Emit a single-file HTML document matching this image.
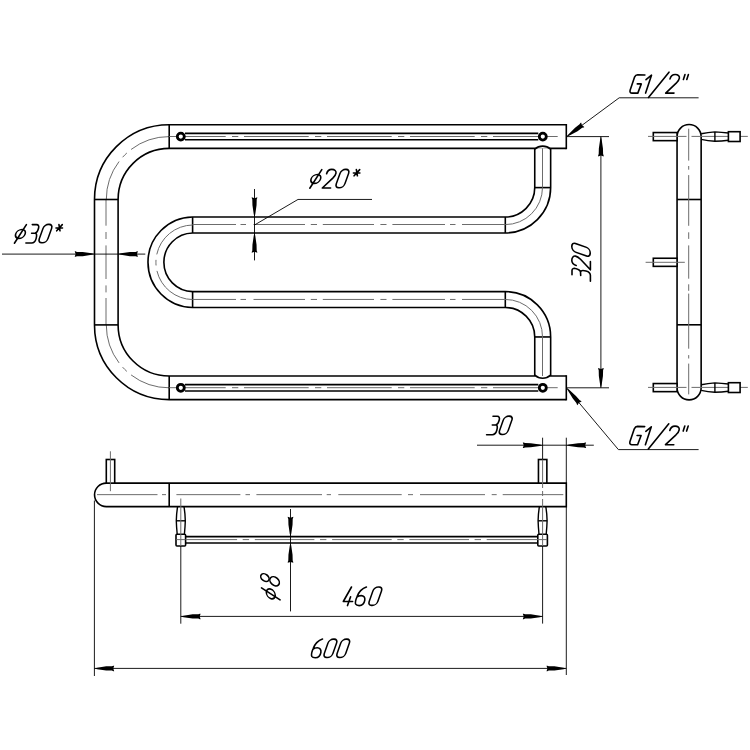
<!DOCTYPE html>
<html><head><meta charset="utf-8"><style>
html,body{margin:0;padding:0;background:#fff;}
svg{display:block;}
</style></head><body>
<svg width="750" height="750" viewBox="0 0 750 750">
<rect width="750" height="750" fill="#fff"/>
<path d="M566.3,136.6 H169.2 A62.89999999999999,62.89999999999999 0 0 0 106.3,199.5 V324.90000000000003 A62.89999999999999,62.89999999999999 0 0 0 169.2,387.8 H566.3" stroke="#000" stroke-width="25.200000000000003" fill="none" />
<path d="M566.3,136.6 H169.2 A62.89999999999999,62.89999999999999 0 0 0 106.3,199.5 V324.90000000000003 A62.89999999999999,62.89999999999999 0 0 0 169.2,387.8 H566.3" stroke="#fff" stroke-width="22.0" fill="none" />
<path d="M169.2,136.6 A62.89999999999999,62.89999999999999 0 0 0 106.3,199.5" stroke="#6c6c6c" stroke-width="1.0" fill="none" stroke-dasharray="40.9 5.5 6 5.5 80" stroke-dashoffset="0"/>
<path d="M169.2,387.8 A62.89999999999999,62.89999999999999 0 0 1 106.3,324.90000000000003" stroke="#6c6c6c" stroke-width="1.0" fill="none" stroke-dasharray="40.9 5.5 6 5.5 80" stroke-dashoffset="0"/>
<line x1="106.00" y1="199.50" x2="106.00" y2="225.70" stroke="#6c6c6c" stroke-width="1.0"/>
<line x1="106.00" y1="232.00" x2="106.00" y2="239.00" stroke="#6c6c6c" stroke-width="1.0"/>
<line x1="106.00" y1="245.40" x2="106.00" y2="279.00" stroke="#6c6c6c" stroke-width="1.0"/>
<line x1="106.00" y1="285.40" x2="106.00" y2="292.40" stroke="#6c6c6c" stroke-width="1.0"/>
<line x1="106.00" y1="298.00" x2="106.00" y2="324.90" stroke="#6c6c6c" stroke-width="1.0"/>
<line x1="566.30" y1="124.00" x2="566.30" y2="149.20" stroke="#000" stroke-width="1.6" />
<line x1="566.30" y1="375.20" x2="566.30" y2="400.40" stroke="#000" stroke-width="1.6" />
<line x1="169.20" y1="124.80" x2="169.20" y2="148.40" stroke="#000" stroke-width="1.6" />
<line x1="169.20" y1="376.00" x2="169.20" y2="399.60" stroke="#000" stroke-width="1.6" />
<line x1="94.50" y1="199.50" x2="118.10" y2="199.50" stroke="#000" stroke-width="1.6" />
<line x1="94.50" y1="324.90" x2="118.10" y2="324.90" stroke="#000" stroke-width="1.6" />
<path d="M542.7,148.3 V187.60 A37.40,37.40 0 0 1 505.3,225.0 H192.6 A37.28,37.28 0 0 0 192.6,299.55 H505.3 A37.40,37.40 0 0 1 542.7,336.95 V376.0" stroke="#000" stroke-width="17.5" fill="none" />
<path d="M542.7,148.3 V187.60 A37.40,37.40 0 0 1 505.3,225.0 H192.6 A37.28,37.28 0 0 0 192.6,299.55 H505.3 A37.40,37.40 0 0 1 542.7,336.95 V376.0" stroke="#fff" stroke-width="14.3" fill="none" />
<path d="M534.75,148.3 A12,12 0 0 1 550.6500000000001,148.3 Z" fill="#fff" stroke="none"/>
<path d="M534.75,149.10000000000002 A12,12 0 0 1 550.6500000000001,149.10000000000002" stroke="#000" stroke-width="1.6" fill="none" />
<path d="M534.75,376.0 A12,12 0 0 0 550.6500000000001,376.0 Z" fill="#fff" stroke="none"/>
<path d="M534.75,375.2 A12,12 0 0 0 550.6500000000001,375.2" stroke="#000" stroke-width="1.6" fill="none" />
<line x1="534.75" y1="187.60" x2="550.65" y2="187.60" stroke="#000" stroke-width="1.6" />
<line x1="534.75" y1="336.95" x2="550.65" y2="336.95" stroke="#000" stroke-width="1.6" />
<line x1="505.30" y1="217.05" x2="505.30" y2="232.95" stroke="#000" stroke-width="1.6" />
<line x1="505.30" y1="291.60" x2="505.30" y2="307.50" stroke="#000" stroke-width="1.6" />
<line x1="192.60" y1="217.05" x2="192.60" y2="232.95" stroke="#000" stroke-width="1.6" />
<line x1="192.60" y1="291.60" x2="192.60" y2="307.50" stroke="#000" stroke-width="1.6" />
<path d="M542.5,148.3 V187.60 A37.20,37.20 0 0 1 505.3,224.6" stroke="#6c6c6c" stroke-width="1.0" fill="none" stroke-dasharray="none" stroke-dashoffset="0"/>
<path d="M542.5,376.0 V336.95 A37.20,37.20 0 0 0 505.3,299.45" stroke="#6c6c6c" stroke-width="1.0" fill="none" stroke-dasharray="none" stroke-dashoffset="0"/>
<line x1="192.60" y1="224.50" x2="236.00" y2="224.50" stroke="#6c6c6c" stroke-width="1.0"/>
<line x1="240.50" y1="224.50" x2="246.00" y2="224.50" stroke="#6c6c6c" stroke-width="1.0"/>
<line x1="253.50" y1="224.50" x2="305.00" y2="224.50" stroke="#6c6c6c" stroke-width="1.0"/>
<line x1="310.80" y1="224.50" x2="317.00" y2="224.50" stroke="#6c6c6c" stroke-width="1.0"/>
<line x1="322.80" y1="224.50" x2="374.00" y2="224.50" stroke="#6c6c6c" stroke-width="1.0"/>
<line x1="380.40" y1="224.50" x2="386.50" y2="224.50" stroke="#6c6c6c" stroke-width="1.0"/>
<line x1="392.40" y1="224.50" x2="445.00" y2="224.50" stroke="#6c6c6c" stroke-width="1.0"/>
<line x1="450.00" y1="224.50" x2="455.50" y2="224.50" stroke="#6c6c6c" stroke-width="1.0"/>
<line x1="462.00" y1="224.50" x2="505.30" y2="224.50" stroke="#6c6c6c" stroke-width="1.0"/>
<line x1="192.60" y1="299.45" x2="236.00" y2="299.45" stroke="#6c6c6c" stroke-width="1.0"/>
<line x1="240.50" y1="299.45" x2="246.00" y2="299.45" stroke="#6c6c6c" stroke-width="1.0"/>
<line x1="253.50" y1="299.45" x2="305.00" y2="299.45" stroke="#6c6c6c" stroke-width="1.0"/>
<line x1="310.80" y1="299.45" x2="317.00" y2="299.45" stroke="#6c6c6c" stroke-width="1.0"/>
<line x1="322.80" y1="299.45" x2="374.00" y2="299.45" stroke="#6c6c6c" stroke-width="1.0"/>
<line x1="380.40" y1="299.45" x2="386.50" y2="299.45" stroke="#6c6c6c" stroke-width="1.0"/>
<line x1="392.40" y1="299.45" x2="445.00" y2="299.45" stroke="#6c6c6c" stroke-width="1.0"/>
<line x1="450.00" y1="299.45" x2="455.50" y2="299.45" stroke="#6c6c6c" stroke-width="1.0"/>
<line x1="462.00" y1="299.45" x2="505.30" y2="299.45" stroke="#6c6c6c" stroke-width="1.0"/>
<path d="M192.6,225.0 A37.28,37.28 0 0 0 192.6,299.55" stroke="#6c6c6c" stroke-width="1.0" fill="none" stroke-dasharray="49.9 5.5 5.7 5.5 80" stroke-dashoffset="0"/>
<line x1="185.00" y1="133.40" x2="538.30" y2="133.40" stroke="#000" stroke-width="1.6" />
<line x1="185.00" y1="139.80" x2="538.30" y2="139.80" stroke="#000" stroke-width="1.6" />
<line x1="169.20" y1="136.50" x2="225.70" y2="136.50" stroke="#6c6c6c" stroke-width="1.0"/>
<line x1="232.00" y1="136.50" x2="238.30" y2="136.50" stroke="#6c6c6c" stroke-width="1.0"/>
<line x1="244.00" y1="136.50" x2="308.70" y2="136.50" stroke="#6c6c6c" stroke-width="1.0"/>
<line x1="315.00" y1="136.50" x2="321.30" y2="136.50" stroke="#6c6c6c" stroke-width="1.0"/>
<line x1="327.00" y1="136.50" x2="391.70" y2="136.50" stroke="#6c6c6c" stroke-width="1.0"/>
<line x1="398.00" y1="136.50" x2="404.30" y2="136.50" stroke="#6c6c6c" stroke-width="1.0"/>
<line x1="410.00" y1="136.50" x2="474.70" y2="136.50" stroke="#6c6c6c" stroke-width="1.0"/>
<line x1="481.00" y1="136.50" x2="487.30" y2="136.50" stroke="#6c6c6c" stroke-width="1.0"/>
<line x1="493.00" y1="136.50" x2="557.70" y2="136.50" stroke="#6c6c6c" stroke-width="1.0"/>
<circle cx="180.8" cy="136.6" r="3.5" fill="#fff" stroke="#000" stroke-width="2.8"/>
<circle cx="542.8" cy="136.6" r="3.5" fill="#fff" stroke="#000" stroke-width="2.8"/>
<line x1="185.00" y1="384.60" x2="538.30" y2="384.60" stroke="#000" stroke-width="1.6" />
<line x1="185.00" y1="391.00" x2="538.30" y2="391.00" stroke="#000" stroke-width="1.6" />
<line x1="169.20" y1="387.70" x2="225.70" y2="387.70" stroke="#6c6c6c" stroke-width="1.0"/>
<line x1="232.00" y1="387.70" x2="238.30" y2="387.70" stroke="#6c6c6c" stroke-width="1.0"/>
<line x1="244.00" y1="387.70" x2="308.70" y2="387.70" stroke="#6c6c6c" stroke-width="1.0"/>
<line x1="315.00" y1="387.70" x2="321.30" y2="387.70" stroke="#6c6c6c" stroke-width="1.0"/>
<line x1="327.00" y1="387.70" x2="391.70" y2="387.70" stroke="#6c6c6c" stroke-width="1.0"/>
<line x1="398.00" y1="387.70" x2="404.30" y2="387.70" stroke="#6c6c6c" stroke-width="1.0"/>
<line x1="410.00" y1="387.70" x2="474.70" y2="387.70" stroke="#6c6c6c" stroke-width="1.0"/>
<line x1="481.00" y1="387.70" x2="487.30" y2="387.70" stroke="#6c6c6c" stroke-width="1.0"/>
<line x1="493.00" y1="387.70" x2="557.70" y2="387.70" stroke="#6c6c6c" stroke-width="1.0"/>
<circle cx="180.8" cy="387.8" r="3.5" fill="#fff" stroke="#000" stroke-width="2.8"/>
<circle cx="542.8" cy="387.8" r="3.5" fill="#fff" stroke="#000" stroke-width="2.8"/>
<path d="M677.0500000000001,136.6 A12.05,12.05 0 0 1 701.15,136.6 V387.8 A12.05,12.05 0 0 1 677.0500000000001,387.8 Z" fill="#fff" stroke="#000" stroke-width="1.6"/>
<line x1="677.05" y1="199.50" x2="701.15" y2="199.50" stroke="#000" stroke-width="1.6" />
<line x1="677.05" y1="324.80" x2="701.15" y2="324.80" stroke="#000" stroke-width="1.6" />
<line x1="688.70" y1="128.70" x2="688.70" y2="160.60" stroke="#6c6c6c" stroke-width="1.0"/>
<line x1="688.70" y1="166.00" x2="688.70" y2="169.70" stroke="#6c6c6c" stroke-width="1.0"/>
<line x1="688.70" y1="175.10" x2="688.70" y2="225.80" stroke="#6c6c6c" stroke-width="1.0"/>
<line x1="688.70" y1="232.30" x2="688.70" y2="238.90" stroke="#6c6c6c" stroke-width="1.0"/>
<line x1="688.70" y1="245.40" x2="688.70" y2="278.70" stroke="#6c6c6c" stroke-width="1.0"/>
<line x1="688.70" y1="284.30" x2="688.70" y2="290.80" stroke="#6c6c6c" stroke-width="1.0"/>
<line x1="688.70" y1="293.60" x2="688.70" y2="348.70" stroke="#6c6c6c" stroke-width="1.0"/>
<line x1="688.70" y1="355.10" x2="688.70" y2="358.50" stroke="#6c6c6c" stroke-width="1.0"/>
<line x1="688.70" y1="363.60" x2="688.70" y2="394.40" stroke="#6c6c6c" stroke-width="1.0"/>
<rect x="653.3" y="132.55" width="23.75" height="8.1" fill="#fff" stroke="#000" stroke-width="1.6"/>
<rect x="653.3" y="258.25" width="23.75" height="8.1" fill="#fff" stroke="#000" stroke-width="1.6"/>
<rect x="653.3" y="383.55" width="23.75" height="8.1" fill="#fff" stroke="#000" stroke-width="1.6"/>
<line x1="648.00" y1="136.40" x2="686.50" y2="136.40" stroke="#6c6c6c" stroke-width="1.0"/>
<line x1="691.50" y1="136.40" x2="747.80" y2="136.40" stroke="#6c6c6c" stroke-width="1.0"/>
<line x1="648.00" y1="387.40" x2="686.50" y2="387.40" stroke="#6c6c6c" stroke-width="1.0"/>
<line x1="691.50" y1="387.40" x2="747.80" y2="387.40" stroke="#6c6c6c" stroke-width="1.0"/>
<line x1="645.60" y1="262.30" x2="684.80" y2="262.30" stroke="#6c6c6c" stroke-width="1.0"/>
<path d="M701.15,133.79999999999998 Q708.025,132.4 714.9,131.9 Q721.65,132.2 728.4,133.0" stroke="#000" stroke-width="1.4" fill="none" />
<path d="M701.15,139.4 Q708.025,140.79999999999998 714.9,141.29999999999998 Q721.65,141.0 728.4,140.2" stroke="#000" stroke-width="1.4" fill="none" />
<line x1="714.90" y1="131.90" x2="714.90" y2="141.30" stroke="#000" stroke-width="1.4" />
<rect x="728.4" y="131.70" width="11.70" height="9.8" fill="#fff" stroke="#000" stroke-width="1.6"/>
<path d="M701.15,384.8 Q708.025,383.40000000000003 714.9,382.90000000000003 Q721.65,383.20000000000005 728.4,384.0" stroke="#000" stroke-width="1.4" fill="none" />
<path d="M701.15,390.40000000000003 Q708.025,391.8 714.9,392.3 Q721.65,392.0 728.4,391.20000000000005" stroke="#000" stroke-width="1.4" fill="none" />
<line x1="714.90" y1="382.90" x2="714.90" y2="392.30" stroke="#000" stroke-width="1.4" />
<rect x="728.4" y="382.70" width="11.70" height="9.8" fill="#fff" stroke="#000" stroke-width="1.6"/>
<line x1="94.40" y1="500.50" x2="94.40" y2="676.00" stroke="#000" stroke-width="0.9" />
<line x1="566.30" y1="437.70" x2="566.30" y2="675.00" stroke="#000" stroke-width="0.9" />
<line x1="542.60" y1="437.70" x2="542.60" y2="459.50" stroke="#000" stroke-width="0.9" />
<line x1="542.60" y1="546.00" x2="542.60" y2="623.60" stroke="#000" stroke-width="0.9" />
<line x1="180.80" y1="546.00" x2="180.80" y2="623.70" stroke="#000" stroke-width="0.9" />
<path d="M566.3,483.1 H106.3 A11.75,11.75 0 0 0 106.3,506.6 H566.3 Z" fill="#fff" stroke="#000" stroke-width="1.6"/>
<line x1="169.20" y1="483.10" x2="169.20" y2="506.60" stroke="#000" stroke-width="1.6" />
<line x1="97.00" y1="494.65" x2="157.50" y2="494.65" stroke="#6c6c6c" stroke-width="1.0"/>
<line x1="162.00" y1="494.65" x2="166.00" y2="494.65" stroke="#6c6c6c" stroke-width="1.0"/>
<line x1="176.40" y1="494.65" x2="240.40" y2="494.65" stroke="#6c6c6c" stroke-width="1.0"/>
<line x1="245.50" y1="494.65" x2="250.00" y2="494.65" stroke="#6c6c6c" stroke-width="1.0"/>
<line x1="256.40" y1="494.65" x2="322.00" y2="494.65" stroke="#6c6c6c" stroke-width="1.0"/>
<line x1="326.70" y1="494.65" x2="331.00" y2="494.65" stroke="#6c6c6c" stroke-width="1.0"/>
<line x1="338.30" y1="494.65" x2="401.70" y2="494.65" stroke="#6c6c6c" stroke-width="1.0"/>
<line x1="408.00" y1="494.65" x2="413.00" y2="494.65" stroke="#6c6c6c" stroke-width="1.0"/>
<line x1="420.00" y1="494.65" x2="485.00" y2="494.65" stroke="#6c6c6c" stroke-width="1.0"/>
<line x1="491.70" y1="494.65" x2="496.70" y2="494.65" stroke="#6c6c6c" stroke-width="1.0"/>
<line x1="502.70" y1="494.65" x2="563.30" y2="494.65" stroke="#6c6c6c" stroke-width="1.0"/>
<rect x="106.30" y="459.5" width="8.4" height="23.60" fill="#fff" stroke="#000" stroke-width="1.6"/>
<rect x="538.45" y="459.5" width="8.4" height="23.60" fill="#fff" stroke="#000" stroke-width="1.6"/>
<line x1="110.40" y1="451.30" x2="110.40" y2="491.20" stroke="#6c6c6c" stroke-width="1.0"/>
<line x1="542.60" y1="459.50" x2="542.60" y2="488.00" stroke="#6c6c6c" stroke-width="1.0"/>
<line x1="542.60" y1="491.00" x2="542.60" y2="496.00" stroke="#6c6c6c" stroke-width="1.0"/>
<line x1="542.60" y1="499.00" x2="542.60" y2="506.60" stroke="#6c6c6c" stroke-width="1.0"/>
<path d="M177.60000000000002,506.6 Q176.4,513.7 176.3,520.8 Q176.5,527.5 177.20000000000002,534.2" stroke="#000" stroke-width="1.4" fill="none" />
<path d="M184.0,506.6 Q185.20000000000002,513.7 185.3,520.8 Q185.10000000000002,527.5 184.4,534.2" stroke="#000" stroke-width="1.4" fill="none" />
<line x1="176.30" y1="520.80" x2="185.30" y2="520.80" stroke="#000" stroke-width="1.4" />
<rect x="176.00" y="534.2" width="9.6" height="11.80" rx="1" fill="#fff" stroke="#000" stroke-width="1.6"/>
<line x1="180.80" y1="498.50" x2="180.80" y2="546.00" stroke="#6c6c6c" stroke-width="1.0"/>
<line x1="176.30" y1="539.60" x2="185.30" y2="539.60" stroke="#6c6c6c" stroke-width="1.0"/>
<path d="M539.4,506.6 Q538.2,513.7 538.1,520.8 Q538.3000000000001,527.5 539.0,534.2" stroke="#000" stroke-width="1.4" fill="none" />
<path d="M545.8000000000001,506.6 Q547.0,513.7 547.1,520.8 Q546.9,527.5 546.2,534.2" stroke="#000" stroke-width="1.4" fill="none" />
<line x1="538.10" y1="520.80" x2="547.10" y2="520.80" stroke="#000" stroke-width="1.4" />
<rect x="537.80" y="534.2" width="9.6" height="11.80" rx="1" fill="#fff" stroke="#000" stroke-width="1.6"/>
<line x1="542.60" y1="506.60" x2="542.60" y2="546.00" stroke="#6c6c6c" stroke-width="1.0"/>
<line x1="538.10" y1="539.60" x2="547.10" y2="539.60" stroke="#6c6c6c" stroke-width="1.0"/>
<line x1="185.60" y1="536.60" x2="537.80" y2="536.60" stroke="#000" stroke-width="1.6" />
<line x1="185.60" y1="543.00" x2="537.80" y2="543.00" stroke="#000" stroke-width="1.6" />
<line x1="185.60" y1="539.60" x2="237.10" y2="539.60" stroke="#6c6c6c" stroke-width="1.0"/>
<line x1="242.70" y1="539.60" x2="249.10" y2="539.60" stroke="#6c6c6c" stroke-width="1.0"/>
<line x1="254.80" y1="539.60" x2="314.40" y2="539.60" stroke="#6c6c6c" stroke-width="1.0"/>
<line x1="320.00" y1="539.60" x2="326.40" y2="539.60" stroke="#6c6c6c" stroke-width="1.0"/>
<line x1="332.10" y1="539.60" x2="391.70" y2="539.60" stroke="#6c6c6c" stroke-width="1.0"/>
<line x1="397.30" y1="539.60" x2="403.70" y2="539.60" stroke="#6c6c6c" stroke-width="1.0"/>
<line x1="409.40" y1="539.60" x2="469.00" y2="539.60" stroke="#6c6c6c" stroke-width="1.0"/>
<line x1="474.60" y1="539.60" x2="481.00" y2="539.60" stroke="#6c6c6c" stroke-width="1.0"/>
<line x1="486.70" y1="539.60" x2="538.00" y2="539.60" stroke="#6c6c6c" stroke-width="1.0"/>
<line x1="2.00" y1="254.10" x2="145.30" y2="254.10" stroke="#000" stroke-width="0.9" />
<polygon points="94.50,254.10 91.70,253.35 82.70,252.05 77.00,251.90 75.50,251.35 74.70,251.35 75.60,254.10 74.70,256.85 75.50,256.85 77.00,256.30 82.70,256.15 91.70,254.85" fill="#000"/>
<polygon points="118.10,254.10 120.90,254.85 129.90,256.15 135.60,256.30 137.10,256.85 137.90,256.85 137.00,254.10 137.90,251.35 137.10,251.35 135.60,251.90 129.90,252.05 120.90,253.35" fill="#000"/>
<line x1="254.50" y1="189.00" x2="254.50" y2="260.40" stroke="#000" stroke-width="0.9" />
<polygon points="254.50,217.05 255.25,214.25 256.55,205.25 256.70,199.55 257.25,198.05 257.25,197.25 254.50,198.15 251.75,197.25 251.75,198.05 252.30,199.55 252.45,205.25 253.75,214.25" fill="#000"/>
<polygon points="254.50,232.95 253.75,235.75 252.45,244.75 252.30,250.45 251.75,251.95 251.75,252.75 254.50,251.85 257.25,252.75 257.25,251.95 256.70,250.45 256.55,244.75 255.25,235.75" fill="#000"/>
<path d="M254.5,225.0 L298,199.45 H372" stroke="#000" stroke-width="0.9" fill="none" />
<path d="M566.8,136.5 L619.2,97.8 H698.6" stroke="#000" stroke-width="0.9" fill="none" />
<polygon points="566.80,136.50 569.50,135.44 577.51,131.14 582.18,127.87 583.72,127.42 584.36,126.95 582.00,125.27 581.09,122.52 580.45,123.00 579.57,124.33 575.07,127.84 568.61,134.23" fill="#000"/>
<path d="M566.8,388.2 L618.4,449.6 H698.6" stroke="#000" stroke-width="0.9" fill="none" />
<polygon points="566.80,388.20 568.03,390.83 572.82,398.55 576.37,403.01 576.92,404.51 577.43,405.13 578.96,402.67 581.64,401.59 581.13,400.98 579.74,400.18 575.96,395.91 569.18,389.86" fill="#000"/>
<line x1="566.30" y1="136.60" x2="609.00" y2="136.60" stroke="#000" stroke-width="0.9" />
<line x1="566.30" y1="387.80" x2="609.00" y2="387.80" stroke="#000" stroke-width="0.9" />
<line x1="600.90" y1="136.60" x2="600.90" y2="387.80" stroke="#000" stroke-width="0.9" />
<polygon points="600.90,136.60 600.15,139.40 598.85,148.40 598.70,154.10 598.15,155.60 598.15,156.40 600.90,155.50 603.65,156.40 603.65,155.60 603.10,154.10 602.95,148.40 601.65,139.40" fill="#000"/>
<polygon points="600.90,387.80 601.65,385.00 602.95,376.00 603.10,370.30 603.65,368.80 603.65,368.00 600.90,368.90 598.15,368.00 598.15,368.80 598.70,370.30 598.85,376.00 600.15,385.00" fill="#000"/>
<line x1="477.00" y1="445.20" x2="593.80" y2="445.20" stroke="#000" stroke-width="0.9" />
<polygon points="542.60,445.20 539.80,444.45 530.80,443.15 525.10,443.00 523.60,442.45 522.80,442.45 523.70,445.20 522.80,447.95 523.60,447.95 525.10,447.40 530.80,447.25 539.80,445.95" fill="#000"/>
<polygon points="566.30,445.20 569.10,445.95 578.10,447.25 583.80,447.40 585.30,447.95 586.10,447.95 585.20,445.20 586.10,442.45 585.30,442.45 583.80,443.00 578.10,443.15 569.10,444.45" fill="#000"/>
<line x1="290.50" y1="509.00" x2="290.50" y2="611.40" stroke="#000" stroke-width="0.9" />
<polygon points="290.50,536.60 291.25,533.80 292.55,524.80 292.70,519.10 293.25,517.60 293.25,516.80 290.50,517.70 287.75,516.80 287.75,517.60 288.30,519.10 288.45,524.80 289.75,533.80" fill="#000"/>
<polygon points="290.50,543.00 289.75,545.80 288.45,554.80 288.30,560.50 287.75,562.00 287.75,562.80 290.50,561.90 293.25,562.80 293.25,562.00 292.70,560.50 292.55,554.80 291.25,545.80" fill="#000"/>
<line x1="180.80" y1="616.40" x2="542.60" y2="616.40" stroke="#000" stroke-width="0.9" />
<polygon points="180.80,616.40 183.60,617.15 192.60,618.45 198.30,618.60 199.80,619.15 200.60,619.15 199.70,616.40 200.60,613.65 199.80,613.65 198.30,614.20 192.60,614.35 183.60,615.65" fill="#000"/>
<polygon points="542.60,616.40 539.80,615.65 530.80,614.35 525.10,614.20 523.60,613.65 522.80,613.65 523.70,616.40 522.80,619.15 523.60,619.15 525.10,618.60 530.80,618.45 539.80,617.15" fill="#000"/>
<line x1="94.40" y1="668.40" x2="566.30" y2="668.40" stroke="#000" stroke-width="0.9" />
<polygon points="94.40,668.40 97.20,669.15 106.20,670.45 111.90,670.60 113.40,671.15 114.20,671.15 113.30,668.40 114.20,665.65 113.40,665.65 111.90,666.20 106.20,666.35 97.20,667.65" fill="#000"/>
<polygon points="566.30,668.40 563.50,667.65 554.50,666.35 548.80,666.20 547.30,665.65 546.50,665.65 547.40,668.40 546.50,671.15 547.30,671.15 548.80,670.60 554.50,670.45 563.50,669.15" fill="#000"/>
<g transform="translate(14.00,243.60)" stroke="#000" stroke-width="1.6" fill="none" stroke-linecap="round" stroke-linejoin="round"><g><ellipse transform="skewX(-18)" cx="3.25" cy="-9.7" rx="4.75" ry="4.45"/><path d="M0.4,-0.4 L12.4,-19"/></g></g>
<g transform="translate(25.60,243.60)" stroke="#000" stroke-width="1.6" fill="none" stroke-linecap="round" stroke-linejoin="round"><path d="M6.7,-19 L11,-19 C12.8,-19 13.5,-17.3 13,-15.6 C12.4,-13.2 11.5,-11 9.6,-10.5 L6,-10.3 M9.6,-10.5 C11.2,-10 11.2,-7.5 10.5,-5 C9.7,-2 8.3,-0.6 6,-0.6 L0.3,-0.6"/></g>
<g transform="translate(38.00,243.60)" stroke="#000" stroke-width="1.6" fill="none" stroke-linecap="round" stroke-linejoin="round"><path transform="skewX(-19.5)" d="M-0.4,-15.2 A4,4 0 0 1 3.6,-19.2 H4.2 A4,4 0 0 1 8.2,-15.2 V-4.8 A4,4 0 0 1 4.2,-0.8 H3.6 A4,4 0 0 1 -0.4,-4.8 Z"/></g>
<g transform="translate(55.60,243.60)" stroke="#000" stroke-width="1.6" fill="none" stroke-linecap="round" stroke-linejoin="round"><path d="M0.4,-15.6 L6.9,-15.6 M3.35,-19.0 L4.4,-12.8 M6.7,-19.0 L1.1,-12.8"/></g>
<g transform="translate(309.40,188.60)" stroke="#000" stroke-width="1.6" fill="none" stroke-linecap="round" stroke-linejoin="round"><g><ellipse transform="skewX(-18)" cx="3.25" cy="-9.7" rx="4.75" ry="4.45"/><path d="M0.4,-0.4 L12.4,-19"/></g></g>
<g transform="translate(321.80,188.60)" stroke="#000" stroke-width="1.6" fill="none" stroke-linecap="round" stroke-linejoin="round"><path d="M4.8,-14.8 C5.5,-17.5 7.5,-19.2 10,-19.2 C13,-19.2 14.5,-17.5 14.2,-15.5 C13.9,-13.5 12.5,-12 11,-10.5 L0.5,-0.6 L8.8,-0.6"/></g>
<g transform="translate(335.00,188.60)" stroke="#000" stroke-width="1.6" fill="none" stroke-linecap="round" stroke-linejoin="round"><path transform="skewX(-19.5)" d="M-0.4,-15.2 A4,4 0 0 1 3.6,-19.2 H4.2 A4,4 0 0 1 8.2,-15.2 V-4.8 A4,4 0 0 1 4.2,-0.8 H3.6 A4,4 0 0 1 -0.4,-4.8 Z"/></g>
<g transform="translate(353.00,188.60)" stroke="#000" stroke-width="1.6" fill="none" stroke-linecap="round" stroke-linejoin="round"><path d="M0.4,-15.6 L6.9,-15.6 M3.35,-19.0 L4.4,-12.8 M6.7,-19.0 L1.1,-12.8"/></g>
<g transform="translate(486.30,435.30)" stroke="#000" stroke-width="1.6" fill="none" stroke-linecap="round" stroke-linejoin="round"><path d="M6.7,-19 L11,-19 C12.8,-19 13.5,-17.3 13,-15.6 C12.4,-13.2 11.5,-11 9.6,-10.5 L6,-10.3 M9.6,-10.5 C11.2,-10 11.2,-7.5 10.5,-5 C9.7,-2 8.3,-0.6 6,-0.6 L0.3,-0.6"/></g>
<g transform="translate(498.30,435.30)" stroke="#000" stroke-width="1.6" fill="none" stroke-linecap="round" stroke-linejoin="round"><path transform="skewX(-19.5)" d="M-0.4,-15.2 A4,4 0 0 1 3.6,-19.2 H4.2 A4,4 0 0 1 8.2,-15.2 V-4.8 A4,4 0 0 1 4.2,-0.8 H3.6 A4,4 0 0 1 -0.4,-4.8 Z"/></g>
<g transform="translate(342.80,606.20)" stroke="#000" stroke-width="1.6" fill="none" stroke-linecap="round" stroke-linejoin="round"><path d="M8.7,-19.2 L0.5,-4.7 L9.8,-4.7 M7.8,-9.5 L4.7,-0.6"/></g>
<g transform="translate(354.70,606.20)" stroke="#000" stroke-width="1.6" fill="none" stroke-linecap="round" stroke-linejoin="round"><path d="M11.7,-19.2 C8,-18 4.5,-15 2.5,-10 C1,-6.5 0.2,-3.5 1,-2 C1.8,-0.6 3,-0.6 4.5,-0.6 C7.5,-0.6 9.6,-3 10.1,-6 C10.5,-8.8 9,-10.6 6.5,-10.6 C4.5,-10.6 3,-9.8 2,-9"/></g>
<g transform="translate(367.90,606.20)" stroke="#000" stroke-width="1.6" fill="none" stroke-linecap="round" stroke-linejoin="round"><path transform="skewX(-19.5)" d="M-0.4,-15.2 A4,4 0 0 1 3.6,-19.2 H4.2 A4,4 0 0 1 8.2,-15.2 V-4.8 A4,4 0 0 1 4.2,-0.8 H3.6 A4,4 0 0 1 -0.4,-4.8 Z"/></g>
<g transform="translate(310.80,658.30)" stroke="#000" stroke-width="1.6" fill="none" stroke-linecap="round" stroke-linejoin="round"><path d="M11.7,-19.2 C8,-18 4.5,-15 2.5,-10 C1,-6.5 0.2,-3.5 1,-2 C1.8,-0.6 3,-0.6 4.5,-0.6 C7.5,-0.6 9.6,-3 10.1,-6 C10.5,-8.8 9,-10.6 6.5,-10.6 C4.5,-10.6 3,-9.8 2,-9"/></g>
<g transform="translate(323.00,658.30)" stroke="#000" stroke-width="1.6" fill="none" stroke-linecap="round" stroke-linejoin="round"><path transform="skewX(-19.5)" d="M-0.4,-15.2 A4,4 0 0 1 3.6,-19.2 H4.2 A4,4 0 0 1 8.2,-15.2 V-4.8 A4,4 0 0 1 4.2,-0.8 H3.6 A4,4 0 0 1 -0.4,-4.8 Z"/></g>
<g transform="translate(335.80,658.30)" stroke="#000" stroke-width="1.6" fill="none" stroke-linecap="round" stroke-linejoin="round"><path transform="skewX(-19.5)" d="M-0.4,-15.2 A4,4 0 0 1 3.6,-19.2 H4.2 A4,4 0 0 1 8.2,-15.2 V-4.8 A4,4 0 0 1 4.2,-0.8 H3.6 A4,4 0 0 1 -0.4,-4.8 Z"/></g>
<g transform="translate(629.30,93.70)" stroke="#000" stroke-width="1.6" fill="none" stroke-linecap="round" stroke-linejoin="round"><path d="M15.6,-18.7 L8.3,-18.9 C7,-18.9 6,-18.2 5.2,-16.5 L0.8,-3.5 C0.3,-1.5 1.3,-0.6 2.8,-0.6 L8.5,-0.6 L12,-9.8 L8,-9.8"/></g>
<g transform="translate(645.60,93.70)" stroke="#000" stroke-width="1.6" fill="none" stroke-linecap="round" stroke-linejoin="round"><path d="M0.4,-14 L5.9,-18.5 L0,-0.6"/></g>
<line x1="648.50" y1="97.50" x2="669.00" y2="72.20" stroke="#000" stroke-width="1.6" stroke-linecap="round"/>
<g transform="translate(665.20,93.70)" stroke="#000" stroke-width="1.6" fill="none" stroke-linecap="round" stroke-linejoin="round"><path d="M4.8,-14.8 C5.5,-17.5 7.5,-19.2 10,-19.2 C13,-19.2 14.5,-17.5 14.2,-15.5 C13.9,-13.5 12.5,-12 11,-10.5 L0.5,-0.6 L8.8,-0.6"/></g>
<g transform="translate(681.80,93.70)" stroke="#000" stroke-width="1.6" fill="none" stroke-linecap="round" stroke-linejoin="round"><path d="M3.2,-19.2 L1.6,-14.2 M6.6,-19.2 L5,-14.2"/></g>
<g transform="translate(629.10,445.30)" stroke="#000" stroke-width="1.6" fill="none" stroke-linecap="round" stroke-linejoin="round"><path d="M15.6,-18.7 L8.3,-18.9 C7,-18.9 6,-18.2 5.2,-16.5 L0.8,-3.5 C0.3,-1.5 1.3,-0.6 2.8,-0.6 L8.5,-0.6 L12,-9.8 L8,-9.8"/></g>
<g transform="translate(645.40,445.30)" stroke="#000" stroke-width="1.6" fill="none" stroke-linecap="round" stroke-linejoin="round"><path d="M0.4,-14 L5.9,-18.5 L0,-0.6"/></g>
<line x1="648.30" y1="449.10" x2="668.80" y2="423.80" stroke="#000" stroke-width="1.6" stroke-linecap="round"/>
<g transform="translate(665.00,445.30)" stroke="#000" stroke-width="1.6" fill="none" stroke-linecap="round" stroke-linejoin="round"><path d="M4.8,-14.8 C5.5,-17.5 7.5,-19.2 10,-19.2 C13,-19.2 14.5,-17.5 14.2,-15.5 C13.9,-13.5 12.5,-12 11,-10.5 L0.5,-0.6 L8.8,-0.6"/></g>
<g transform="translate(681.60,445.30)" stroke="#000" stroke-width="1.6" fill="none" stroke-linecap="round" stroke-linejoin="round"><path d="M3.2,-19.2 L1.6,-14.2 M6.6,-19.2 L5,-14.2"/></g>
<g transform="translate(591.00,281.50) rotate(-90) translate(0.0,0)" stroke="#000" stroke-width="1.6" fill="none" stroke-linecap="round" stroke-linejoin="round"><path d="M6.7,-19 L11,-19 C12.8,-19 13.5,-17.3 13,-15.6 C12.4,-13.2 11.5,-11 9.6,-10.5 L6,-10.3 M9.6,-10.5 C11.2,-10 11.2,-7.5 10.5,-5 C9.7,-2 8.3,-0.6 6,-0.6 L0.3,-0.6"/></g>
<g transform="translate(591.00,281.50) rotate(-90) translate(11.2,0)" stroke="#000" stroke-width="1.6" fill="none" stroke-linecap="round" stroke-linejoin="round"><path d="M4.8,-14.8 C5.5,-17.5 7.5,-19.2 10,-19.2 C13,-19.2 14.5,-17.5 14.2,-15.5 C13.9,-13.5 12.5,-12 11,-10.5 L0.5,-0.6 L8.8,-0.6"/></g>
<g transform="translate(591.00,281.50) rotate(-90) translate(24.3,0)" stroke="#000" stroke-width="1.6" fill="none" stroke-linecap="round" stroke-linejoin="round"><path transform="skewX(-19.5)" d="M-0.4,-15.2 A4,4 0 0 1 3.6,-19.2 H4.2 A4,4 0 0 1 8.2,-15.2 V-4.8 A4,4 0 0 1 4.2,-0.8 H3.6 A4,4 0 0 1 -0.4,-4.8 Z"/></g>
<g transform="translate(280.50,600.30) rotate(-90)" stroke="#000" stroke-width="1.6" fill="none" stroke-linecap="round" stroke-linejoin="round"><g><ellipse transform="skewX(-18)" cx="3.25" cy="-9.7" rx="4.75" ry="4.45"/><path d="M0.4,-0.4 L12.4,-19"/></g></g>
<g transform="translate(280.50,600.30) rotate(-90) translate(13.6,0)" stroke="#000" stroke-width="1.6" fill="none" stroke-linecap="round" stroke-linejoin="round"><g><ellipse transform="translate(9.1,-15.6) rotate(38)" rx="3.3" ry="4.6"/><ellipse transform="translate(5.4,-5.9) rotate(42)" rx="3.9" ry="5.3"/></g></g>
</svg></body></html>
